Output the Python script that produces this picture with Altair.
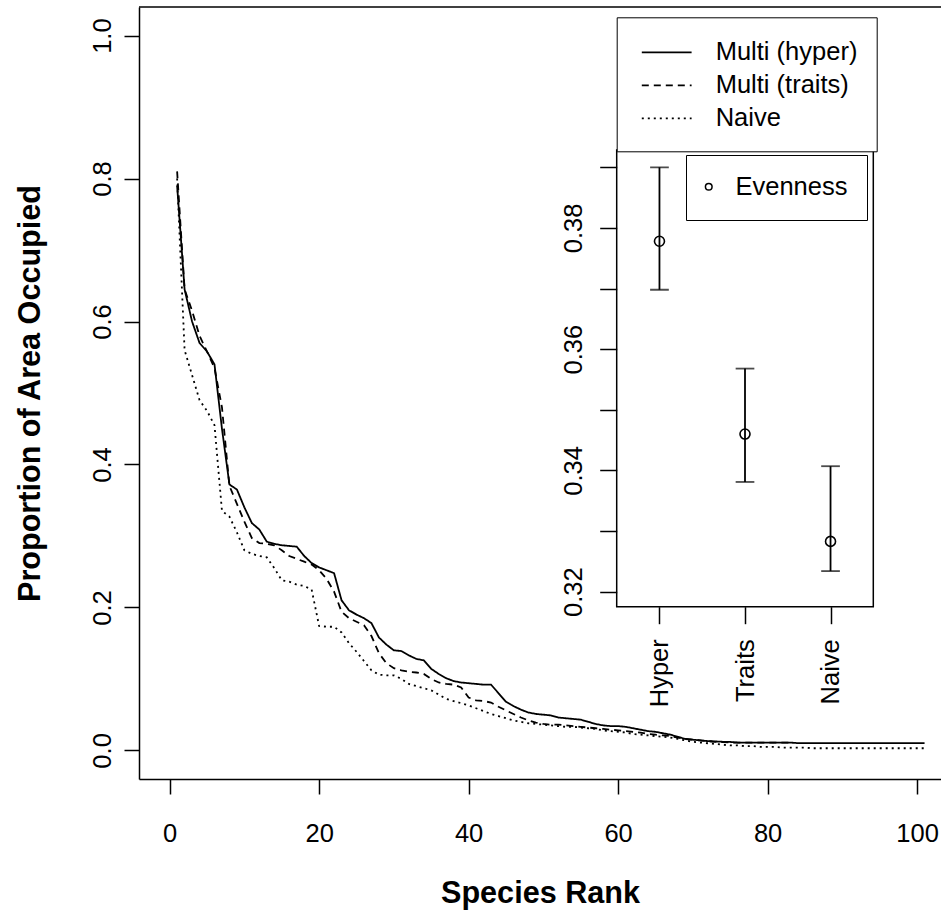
import json
import altair as alt
import pandas as pd

# ---------------- data ----------------
series_names = ["Multi (hyper)", "Multi (traits)", "Naive"]

hyper_rank = list(range(1, 102))
hyper_prop = [
    0.79, 0.645, 0.60, 0.570, 0.558, 0.540, 0.450, 0.372, 0.365, 0.340,
    0.318, 0.309, 0.292, 0.289, 0.287, 0.286, 0.285, 0.272, 0.262, 0.256,
    0.252, 0.248, 0.210, 0.196, 0.190, 0.185, 0.178, 0.158, 0.148, 0.140,
    0.139, 0.133, 0.128, 0.126, 0.114, 0.107, 0.101, 0.097, 0.095, 0.094,
    0.093, 0.092, 0.092, 0.080, 0.068, 0.062, 0.057, 0.053, 0.051, 0.050,
    0.049, 0.046, 0.045, 0.044, 0.043, 0.040, 0.037, 0.035, 0.034, 0.034,
    0.033, 0.031, 0.029, 0.027, 0.026, 0.024, 0.022, 0.019, 0.016, 0.015,
    0.014, 0.013, 0.0126, 0.012, 0.0118, 0.011, 0.011, 0.011, 0.011, 0.011,
    0.011, 0.011, 0.011, 0.0102, 0.0102, 0.0102, 0.0102, 0.0102, 0.0102, 0.0102,
    0.0102, 0.0102, 0.0102, 0.0102, 0.0102, 0.0102, 0.0102, 0.0102, 0.0102, 0.0102,
    0.0102,
]

traits_rank = list(range(1, 84))
traits_prop = [
    0.81, 0.645, 0.615, 0.580, 0.558, 0.535, 0.480, 0.370, 0.345, 0.320,
    0.297, 0.290, 0.289, 0.287, 0.280, 0.272, 0.268, 0.264, 0.260, 0.252,
    0.240, 0.222, 0.194, 0.185, 0.180, 0.175, 0.160, 0.136, 0.122, 0.115,
    0.112, 0.110, 0.109, 0.107, 0.100, 0.095, 0.093, 0.092, 0.088, 0.074,
    0.070, 0.069, 0.067, 0.061, 0.056, 0.051, 0.046, 0.042, 0.039, 0.037,
    0.036, 0.036, 0.035, 0.034, 0.033, 0.032, 0.031, 0.030, 0.029, 0.028,
    0.027, 0.026, 0.025, 0.023, 0.022, 0.021, 0.020, 0.018, 0.016, 0.015,
    0.014, 0.013, 0.012, 0.0115, 0.011, 0.011, 0.011, 0.011, 0.011, 0.011,
    0.011, 0.011, 0.011,
]

naive_rank = list(range(1, 102))
naive_prop = [
    0.80, 0.560, 0.525, 0.490, 0.475, 0.455, 0.335, 0.327, 0.305, 0.280,
    0.275, 0.272, 0.270, 0.255, 0.238, 0.236, 0.232, 0.230, 0.225, 0.174,
    0.173, 0.173, 0.165, 0.150, 0.138, 0.125, 0.112, 0.106, 0.105, 0.105,
    0.100, 0.093, 0.090, 0.087, 0.084, 0.078, 0.072, 0.069, 0.066, 0.063,
    0.059, 0.055, 0.051, 0.048, 0.045, 0.042, 0.040, 0.038, 0.037, 0.036,
    0.035, 0.034, 0.033, 0.033, 0.032, 0.031, 0.030, 0.028, 0.027, 0.026,
    0.025, 0.023, 0.022, 0.021, 0.020, 0.019, 0.018, 0.016, 0.014, 0.012,
    0.011, 0.010, 0.009, 0.008, 0.007, 0.007, 0.006, 0.006, 0.005, 0.005,
    0.005, 0.004, 0.004, 0.004, 0.004, 0.003, 0.003, 0.003, 0.003, 0.003,
    0.003, 0.003, 0.003, 0.003, 0.003, 0.003, 0.003, 0.003, 0.003, 0.003,
    0.003,
]

groups = ["Hyper", "Traits", "Naive"]
group_pos = [1, 2, 3]
even_mean = [0.3778, 0.3460, 0.3283]
even_low = [0.3698, 0.3381, 0.3234]
even_high = [0.3900, 0.3568, 0.3407]

x_ticks = [0, 20, 40, 60, 80, 100]
y_ticks = [0.0, 0.2, 0.4, 0.6, 0.8, 1.0]
inset_y_ticks = [0.32, 0.33, 0.34, 0.35, 0.36, 0.37, 0.38, 0.39]

# ---------------- tables ----------------
rows = []
for name, rk, vals in [
    (series_names[0], hyper_rank, hyper_prop),
    (series_names[1], traits_rank, traits_prop),
    (series_names[2], naive_rank, naive_prop),
]:
    for r, v in zip(rk, vals):
        rows.append({"rank": r, "prop": v, "model": name})
lines_df = pd.DataFrame(rows)

inset_df = pd.DataFrame({
    "group": groups, "pos": group_pos, "mean": even_mean,
    "low": even_low, "high": even_high, "key": ["Evenness"] * len(groups),
})
frame_df = pd.DataFrame({"x0": [0.5], "x1": [3.5], "y0": [0.31752], "y1": [0.39286]})

FONT = "Liberation Sans"
FS = 25.5
TFS = 30.6
BLACK = "#000000"

# ---------------- main panel ----------------
xmain = alt.Scale(domain=[-4.1, 103.2], nice=False, zero=False)
ymain = alt.Scale(domain=[-0.04, 1.04], nice=False, zero=False)

x_axis = alt.Axis(values=x_ticks, title="Species Rank", grid=False, tickSize=15,
                  labelFontSize=FS, labelPadding=27, titleFontSize=TFS,
                  titleFontWeight="bold", titlePadding=32, labelFlush=False)
y_axis = alt.Axis(values=y_ticks, format=".1f", title="Proportion of Area Occupied",
                  grid=False, tickSize=15, labelFontSize=FS, labelAngle=270,
                  labelAlign="center", labelBaseline="alphabetic", labelPadding=14,
                  titleFontSize=TFS, titleFontWeight="bold", titlePadding=45,
                  labelFlush=False)

lines = alt.Chart(lines_df).mark_line(color=BLACK, strokeWidth=1.8, clip=True).encode(
    x=alt.X("rank:Q", scale=xmain, axis=x_axis),
    y=alt.Y("prop:Q", scale=ymain, axis=y_axis),
    strokeDash=alt.StrokeDash(
        "model:N",
        sort=series_names,
        scale=alt.Scale(domain=series_names, range=[[1, 0], [7, 5], [2, 4]]),
        legend=alt.Legend(
            title=None, orient="none", legendX=477.7, legendY=10.3,
            fillColor="white", strokeColor=BLACK, padding=19,
            symbolType="M-0.66,0H2.66", symbolSize=900, symbolStrokeWidth=1.8,
            symbolStrokeColor=BLACK, labelFont=FONT, labelFontSize=FS,
            labelColor=BLACK, labelOffset=48, rowPadding=3, labelLimit=400,
        ),
    ),
)

top_border = alt.Chart(pd.DataFrame({"k": [0]})).mark_rule(
    color=BLACK, strokeWidth=1.5
).encode(y=alt.datum(1.04))

main = alt.layer(lines, top_border)

# ---------------- inset panel ----------------
xin = alt.Scale(domain=[0.5, 3.5], range=[477.7, 734.3], nice=False, zero=False)
yin = alt.Scale(domain=[0.32, 0.39], range=[584.7, 160.3], nice=False, zero=False)

xin_axis = alt.Axis(
    orient="bottom", offset=-172.3, values=group_pos,
    labelExpr=json.dumps(groups) + "[datum.value - 1]",
    title=None, domain=False, grid=False, tickSize=17, labelAngle=270,
    labelAlign="right", labelBaseline="middle", labelFontSize=FS,
    labelPadding=15, labelFlush=False,
)
yin_axis = alt.Axis(
    orient="left", offset=-477.7, values=inset_y_ticks,
    labelExpr="round(datum.value * 100) % 2 == 0 ? format(datum.value, '.2f') : ''",
    title=None, domain=False, grid=False, tickSize=17, labelAngle=270,
    labelAlign="center", labelBaseline="alphabetic", labelFontSize=FS,
    labelPadding=18, labelFlush=False,
)

frame = alt.Chart(frame_df).mark_rect(
    fillOpacity=0, stroke=BLACK, strokeWidth=1.5
).encode(
    x=alt.X("x0:Q", scale=xin, axis=xin_axis), x2="x1:Q",
    y=alt.Y("y0:Q", scale=yin, axis=yin_axis), y2="y1:Q",
)

errbars = alt.Chart(inset_df).mark_rule(color=BLACK, strokeWidth=1.8).encode(
    x=alt.X("pos:Q", scale=xin, axis=xin_axis),
    y=alt.Y("low:Q", scale=yin, axis=yin_axis), y2="high:Q",
)
cap_low = alt.Chart(inset_df).mark_tick(
    color=BLACK, size=18.7, thickness=1.8, orient="horizontal"
).encode(
    x=alt.X("pos:Q", scale=xin, axis=xin_axis),
    y=alt.Y("low:Q", scale=yin, axis=yin_axis),
)
cap_high = alt.Chart(inset_df).mark_tick(
    color=BLACK, size=18.7, thickness=1.8, orient="horizontal"
).encode(
    x=alt.X("pos:Q", scale=xin, axis=xin_axis),
    y=alt.Y("high:Q", scale=yin, axis=yin_axis),
)
points = alt.Chart(inset_df).mark_point(
    filled=False, color=BLACK, size=100, strokeWidth=1.6, opacity=1
).encode(
    x=alt.X("pos:Q", scale=xin, axis=xin_axis),
    y=alt.Y("mean:Q", scale=yin, axis=yin_axis),
    shape=alt.Shape(
        "key:N", scale=alt.Scale(range=["circle"]),
        legend=alt.Legend(
            title=None, orient="none", legendX=547, legendY=148,
            fillColor="white", strokeColor=BLACK, padding=19,
            symbolType="circle", symbolSize=44, symbolStrokeWidth=1.5,
            symbolStrokeColor=BLACK, symbolFillColor="transparent",
            symbolOffset=-9,
            labelFont=FONT, labelFontSize=FS, labelColor=BLACK,
            labelOffset=14, labelLimit=400,
        ),
    ),
)

inset = alt.layer(frame, errbars, cap_low, cap_high, points)

chart = alt.layer(main, inset).resolve_scale(
    x="independent", y="independent"
).properties(
    width=802, height=772,
    padding={"left": 139, "top": 7, "right": 0, "bottom": 139},
    autosize=alt.AutoSizeParams(type="none"),
    background="white",
).configure(
    font=FONT,
).configure_view(
    stroke=None,
).configure_axis(
    labelFont=FONT, titleFont=FONT, labelColor=BLACK, titleColor=BLACK,
    domainColor=BLACK, tickColor=BLACK, domainWidth=1.5, tickWidth=1.5,
)

chart.save("out.html", embed_options={"renderer": "svg", "actions": False})
